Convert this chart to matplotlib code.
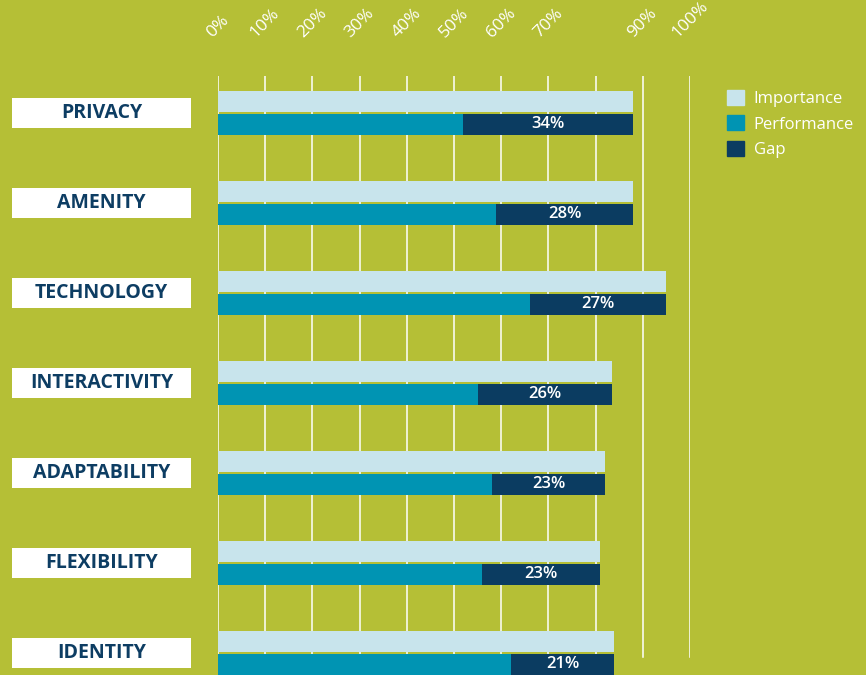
import numpy as np
import matplotlib
matplotlib.use("Agg")
import matplotlib.pyplot as plt
import matplotlib.patches as mpatches
import matplotlib.transforms as mtransforms

plt.rcParams['font.family'] = ['Open Sans', 'DejaVu Sans']

# data
categories = ["PRIVACY", "AMENITY", "TECHNOLOGY", "INTERACTIVITY",
              "ADAPTABILITY", "FLEXIBILITY", "IDENTITY"]
importance = [88, 88, 95, 83.5, 82, 81, 84]
performance = [52, 59, 66, 55, 58, 56, 62]
gap_pct = [34, 28, 27, 26, 23, 23, 21]
tick_values = [0, 10, 20, 30, 40, 50, 60, 70, 80, 90, 100]
tick_labels = ["0%", "10%", "20%", "30%", "40%", "50%", "60%", "70%", "", "90%", "100%"]
series = ["Importance", "Performance", "Gap"]

BG = "#b5bf36"
C_IMP = "#c8e4ec"
C_PERF = "#0094b3"
C_GAP = "#0b3c61"
NAVY = "#0d3d63"

W, H = 866, 675
fig = plt.figure(figsize=(W / 100, H / 100), dpi=100, facecolor=BG)
ax_top = 76
ax = fig.add_axes([218 / W, 0, 472 / W, (H - ax_top) / H])
ax.set_facecolor(BG)

row = 90.0  # pixels per category
top_off = 37 / row
ax.set_xlim(0, 100)
ax.set_ylim(-top_off + (H - ax_top) / row, -top_off)

y = np.arange(len(categories))
h = 21 / row
off = 11.5 / row

# gridlines (stop a bit above the bottom)
for t in tick_values:
    ax.axvline(t, ymin=18 / (H - ax_top), ymax=1, color="white", lw=1.1, zorder=1)

gap = np.array(importance) - np.array(performance)
ax.barh(y - off, importance, height=h, color=C_IMP, zorder=3)
ax.barh(y + off, performance, height=h, color=C_PERF, zorder=3)
ax.barh(y + off, gap, left=performance, height=h, color=C_GAP, zorder=3)

for yi, p, g, lab in zip(y, performance, gap, gap_pct):
    ax.text(p + g / 2, yi + off, f"{lab}%", ha="center", va="center",
            color="white", fontsize=12, fontweight="semibold", zorder=4)

# top tick labels
ax.xaxis.tick_top()
ax.set_xticks(tick_values)
ax.set_xticklabels(tick_labels, rotation=45, ha="center", va="bottom",
                   color="white", fontsize=12.5)
ax.tick_params(axis="x", length=0, pad=25)
ax.set_yticks([])
for s in ax.spines.values():
    s.set_visible(False)

# category boxes on the left
trans = mtransforms.blended_transform_factory(fig.transFigure, ax.transData)
box_h = 30 / row
for yi, cat in zip(y, categories):
    ax.add_patch(mpatches.Rectangle((12 / W, yi - box_h / 2), 179 / W, box_h,
                                    transform=trans, facecolor="white",
                                    edgecolor="none", clip_on=False))
    ax.text(101.5 / W, yi, cat, transform=trans, ha="center", va="center",
            color=NAVY, fontsize=14, fontweight="bold", clip_on=False)

handles = [mpatches.Patch(color=c, label=l) for c, l in zip([C_IMP, C_PERF, C_GAP], series)]
fig.legend(handles=handles, loc="upper left", bbox_to_anchor=(727 / W, 1 - 90 / H),
           frameon=False, fontsize=12, labelcolor="white", handlelength=1.0,
           handleheight=1.0, handletextpad=0.6, labelspacing=0.5,
           borderpad=0, borderaxespad=0)

fig.savefig("out.png", dpi=100, facecolor=BG)
